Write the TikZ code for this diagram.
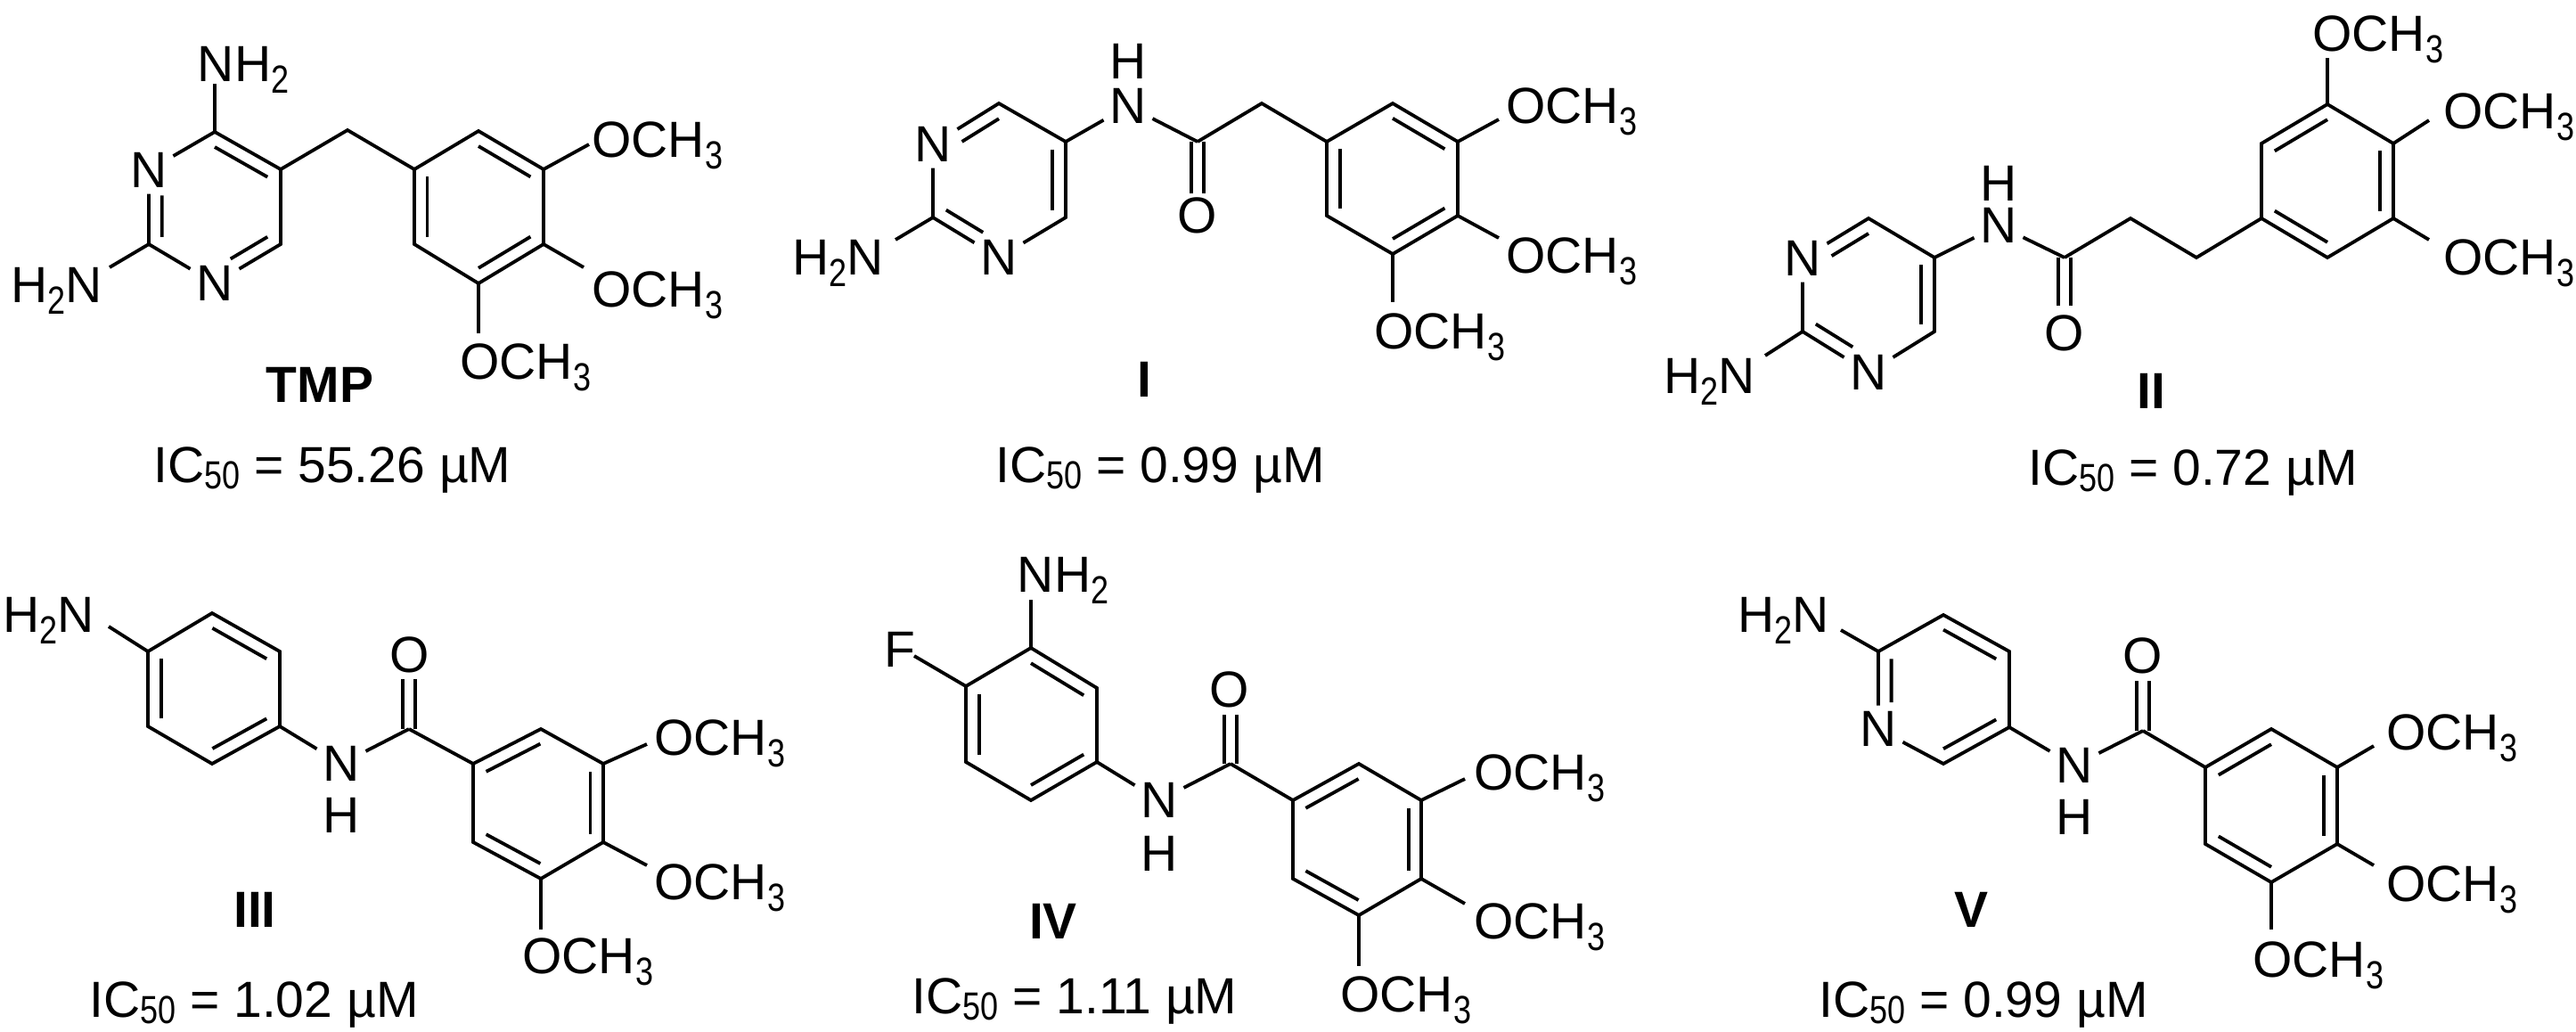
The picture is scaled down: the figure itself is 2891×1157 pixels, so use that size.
\documentclass[tikz,border=0pt]{standalone}
\usepackage{fontspec}
\setmainfont{Liberation Sans}
\usetikzlibrary{calc}
\newcommand\fsz{\fontsize{57}{60}\selectfont}
\newcommand\sub[1]{\raisebox{-13pt}{\scalebox{0.9}[1.1]{\fontsize{40}{40}\selectfont #1}}}
\newcommand\isub[1]{\raisebox{-7pt}{\scalebox{0.9}[1.1]{\fontsize{40}{40}\selectfont #1}}}
\newcommand\dbl[5]{%
  \coordinate (dA) at ($(#1)!0.2!(#3)$);
  \coordinate (dB) at ($(#2)!0.2!(#3)$);
  \draw ($(dA)!#4!(dB)$) -- ($(dB)!#5!(dA)$);}
% name, O centre x, y
\newcommand\OMe[3]{\node[lab,anchor=base west] (#1) at (#2-22.5,#3+21) {OCH\sub{3}};}
\newcommand\CO[4]{% carbon, end coordinate
  \draw ([xshift=-7pt]#1) -- ([xshift=-7pt]#2);
  \draw ([xshift=7pt]#1) -- ([xshift=7pt]#2);}
\begin{document}
\begin{tikzpicture}[x=1pt,y=-1pt,line width=3.8pt,line join=miter,
  lab/.style={inner sep=0pt,font=\fsz},
  atm/.style={inner sep=5pt,font=\fsz},
  cmpd/.style={inner sep=0pt,font=\fsz\bfseries,anchor=base},
  ic/.style={inner sep=0pt,font=\fsz,anchor=base}]
\useasboundingbox (0,0) rectangle (2891,1157);
\fill[white] (0,0) rectangle (2891,1157);

% ================= TMP
\coordinate (t4) at (241,148); \coordinate (t5) at (315,190); \coordinate (t6) at (315,274);
\node[atm] (tn1) at (241,318) {N}; \coordinate (t2) at (167,274); \node[atm] (tn3) at (167,191) {N};
\coordinate (tc) at (241,233);
\draw (tn3) -- (t4) -- (t5) -- (t6) -- (tn1) -- (t2) -- (tn3);
\dbl{t4}{t5}{tc}{0}{0} \dbl{t2}{tn3}{tc}{0}{0.3} \dbl{t6}{tn1}{tc}{0}{0.3}
\coordinate (tnh) at (241,94); \draw (t4) -- (tnh);
\node[lab,anchor=base west] (tNH2) at (220,91) {NH\sub{2}};
\coordinate (th2n) at (123,300); \draw (t2) -- (th2n);
\node[lab,anchor=base east] (tH2N) at (117,339) {H\sub{2}N};
\coordinate (tm) at (390,146);
\coordinate (b1) at (465,190); \coordinate (b2) at (537,147); \coordinate (b3) at (610,190);
\coordinate (b4) at (610,274); \coordinate (b5) at (537,318); \coordinate (b6) at (465,274);
\coordinate (bc) at (537,232);
\draw (t5) -- (tm) -- (b1);
\draw (b1) -- (b2) -- (b3) -- (b4) -- (b5) -- (b6) -- cycle;
\dbl{b2}{b3}{bc}{0}{0} \dbl{b4}{b5}{bc}{0}{0} \dbl{b1}{b6}{bc}{0}{0}
\coordinate (bo3) at (661,162); \draw (b3) -- (bo3); \OMe{tO1}{685}{155}
\coordinate (bo4) at (655,300); \draw (b4) -- (bo4); \OMe{tO2}{685}{323}
\coordinate (bo5) at (537,374); \draw (b5) -- (bo5); \OMe{tO3}{537}{404}
\node[cmpd] (lTMP) at (359,451) {TMP};
\node[ic] (icTMP) at (373,541) {IC\isub{50} = 55.26 µM};

% ================= I
\coordinate (p6) at (1121,116); \coordinate (p5) at (1196,159); \coordinate (p4) at (1196,244);
\node[atm] (pn3) at (1121,289) {N}; \coordinate (p2) at (1047,244); \node[atm] (pn1) at (1047,162) {N};
\coordinate (pc) at (1121,202);
\draw (pn1) -- (p6) -- (p5) -- (p4) -- (pn3) -- (p2) -- (pn1);
\dbl{pn1}{p6}{pc}{0.3}{0} \dbl{p2}{pn3}{pc}{0}{0.3} \dbl{p5}{p4}{pc}{0}{0}
\coordinate (ph2n) at (1005,269); \draw (p2) -- (ph2n);
\node[lab,anchor=base east] (pH2N) at (994,308) {H\sub{2}N};
\node[atm] (pN) at (1266,119) {N}; \node[lab,anchor=base] (pH) at (1266,88) {H};
\coordinate (pC) at (1344,159); \coordinate (pOe) at (1344,217);
\draw (p5) -- (pN) -- (pC);
\CO{pC}{pOe}{}{}
\node[lab,anchor=base] (pO) at (1344,261) {O};
\coordinate (pm) at (1416,116);
\coordinate (q1) at (1489,159); \coordinate (q2) at (1563,116); \coordinate (q3) at (1636,159);
\coordinate (q4) at (1636,242); \coordinate (q5) at (1563,285); \coordinate (q6) at (1489,242);
\coordinate (qc) at (1563,200);
\draw (pC) -- (pm) -- (q1);
\draw (q1) -- (q2) -- (q3) -- (q4) -- (q5) -- (q6) -- cycle;
\dbl{q2}{q3}{qc}{0}{0} \dbl{q4}{q5}{qc}{0}{0} \dbl{q1}{q6}{qc}{0}{0}
\coordinate (qo3) at (1682,134); \draw (q3) -- (qo3); \OMe{pO1}{1711}{117}
\coordinate (qo4) at (1682,267); \draw (q4) -- (qo4); \OMe{pO2}{1711}{285}
\coordinate (qo5) at (1563,339); \draw (q5) -- (qo5); \OMe{pO3}{1563}{370}
\node[cmpd] (lI) at (1284,445) {I};
\node[ic] (icI) at (1302,541) {IC\isub{50} = 0.99 µM};

% ================= II
\coordinate (r6) at (2097,245); \coordinate (r5) at (2171,289); \coordinate (r4) at (2171,372);
\node[atm] (rn3) at (2097,418) {N}; \coordinate (r2) at (2023,372); \node[atm] (rn1) at (2023,290) {N};
\coordinate (rcc) at (2097,330);
\draw (rn1) -- (r6) -- (r5) -- (r4) -- (rn3) -- (r2) -- (rn1);
\dbl{rn1}{r6}{rcc}{0.3}{0} \dbl{r2}{rn3}{rcc}{0}{0.3} \dbl{r5}{r4}{rcc}{0}{0}
\coordinate (rh2n) at (1981,399); \draw (r2) -- (rh2n);
\node[lab,anchor=base east] (rH2N) at (1972,441) {H\sub{2}N};
\node[atm] (rN) at (2243,253) {N}; \node[lab,anchor=base] (rH) at (2243,225) {H};
\coordinate (rC) at (2317,289); \coordinate (rOe) at (2317,343);
\draw (r5) -- (rN) -- (rC);
\CO{rC}{rOe}{}{}
\node[lab,anchor=base] (rO) at (2317,393) {O};
\coordinate (ra) at (2391,245); \coordinate (rb) at (2465,289);
\coordinate (s1) at (2538,245); \coordinate (s2) at (2538,161); \coordinate (s3) at (2612,117);
\coordinate (s4) at (2686,161); \coordinate (s5) at (2686,245); \coordinate (s6) at (2612,289);
\coordinate (sc) at (2612,203);
\draw (rC) -- (ra) -- (rb) -- (s1);
\draw (s1) -- (s2) -- (s3) -- (s4) -- (s5) -- (s6) -- cycle;
\dbl{s2}{s3}{sc}{0}{0} \dbl{s4}{s5}{sc}{0}{0} \dbl{s1}{s6}{sc}{0}{0}
\coordinate (so3) at (2612,65); \draw (s3) -- (so3); \OMe{rO1}{2616}{36}
\coordinate (so4) at (2726,135); \draw (s4) -- (so4); \OMe{rO2}{2763}{123}
\coordinate (so5) at (2726,269); \draw (s5) -- (so5); \OMe{rO3}{2763}{287}
\node[cmpd] (lII) at (2414,458) {II};
\node[ic] (icII) at (2461,544) {IC\isub{50} = 0.72 µM};

% ================= III
\coordinate (a1) at (238,688); \coordinate (a2) at (314,731); \coordinate (a3) at (314,815);
\coordinate (a4) at (238,857); \coordinate (a5) at (166,815); \coordinate (a6) at (166,731);
\coordinate (ac0) at (240,772);
\draw (a1) -- (a2) -- (a3) -- (a4) -- (a5) -- (a6) -- cycle;
\dbl{a1}{a2}{ac0}{0}{0} \dbl{a3}{a4}{ac0}{0}{0} \dbl{a5}{a6}{ac0}{0}{0}
\coordinate (ah2n) at (122,703); \draw (a6) -- (ah2n);
\node[lab,anchor=base east] (aH2N) at (108,709) {H\sub{2}N};
\node[atm] (aN) at (383,857) {N}; \node[lab,anchor=base] (aH) at (383,934) {H};
\coordinate (aC) at (459,818); \coordinate (aOe) at (459,762);
\draw (a3) -- (aN) -- (aC);
\CO{aC}{aOe}{}{}
\node[lab,anchor=base] (aO) at (460,754) {O};
\coordinate (c1) at (531,857); \coordinate (c2) at (607,818); \coordinate (c3) at (677,857);
\coordinate (c4) at (677,945); \coordinate (c5) at (607,986); \coordinate (c6) at (531,945);
\coordinate (cc) at (604,901);
\draw (aC) -- (c1);
\draw (c1) -- (c2) -- (c3) -- (c4) -- (c5) -- (c6) -- cycle;
\dbl{c1}{c2}{cc}{0}{0} \dbl{c3}{c4}{cc}{0}{0} \dbl{c5}{c6}{cc}{0}{0}
\coordinate (co3) at (726,835); \draw (c3) -- (co3); \OMe{aO1}{755}{826}
\coordinate (co4) at (726,971); \draw (c4) -- (co4); \OMe{aO2}{755}{988}
\coordinate (co5) at (607,1043); \draw (c5) -- (co5); \OMe{aO3}{607}{1071}
\node[cmpd] (lIII) at (286,1040) {III};
\node[ic] (icIII) at (285,1141) {IC\isub{50} = 1.02 µM};

% ================= IV
\coordinate (d1) at (1157,727); \coordinate (d2) at (1231,772); \coordinate (d3) at (1231,855);
\coordinate (d4) at (1157,898); \coordinate (d5) at (1084,855); \coordinate (d6) at (1084,770);
\coordinate (dc0) at (1157,813);
\draw (d1) -- (d2) -- (d3) -- (d4) -- (d5) -- (d6) -- cycle;
\dbl{d1}{d2}{dc0}{0}{0} \dbl{d3}{d4}{dc0}{0}{0} \dbl{d5}{d6}{dc0}{0}{0}
\coordinate (dnh) at (1157,673); \draw (d1) -- (dnh);
\node[lab,anchor=base west] (dNH2) at (1140,664) {NH\sub{2}};
\coordinate (df) at (1026,736); \draw (d6) -- (df);
\node[lab,anchor=base] (dF) at (1010,748) {F};
\node[atm] (dN) at (1301,898) {N}; \node[lab,anchor=base] (dH) at (1301,977) {H};
\coordinate (dC) at (1381,857); \coordinate (dOe) at (1381,802);
\draw (d3) -- (dN) -- (dC);
\CO{dC}{dOe}{}{}
\node[lab,anchor=base] (dO) at (1380,793) {O};
\coordinate (e1) at (1451,898); \coordinate (e2) at (1525,857); \coordinate (e3) at (1595,898);
\coordinate (e4) at (1595,986); \coordinate (e5) at (1525,1027); \coordinate (e6) at (1451,986);
\coordinate (ec) at (1523,942);
\draw (dC) -- (e1);
\draw (e1) -- (e2) -- (e3) -- (e4) -- (e5) -- (e6) -- cycle;
\dbl{e1}{e2}{ec}{0}{0} \dbl{e3}{e4}{ec}{0}{0} \dbl{e5}{e6}{ec}{0}{0}
\coordinate (eo3) at (1644,874); \draw (e3) -- (eo3); \OMe{dO1}{1675}{865}
\coordinate (eo4) at (1644,1014); \draw (e4) -- (eo4); \OMe{dO2}{1675}{1032}
\coordinate (eo5) at (1525,1084); \draw (e5) -- (eo5); \OMe{dO3}{1525}{1114}
\node[cmpd] (lIV) at (1182,1053) {IV};
\node[ic] (icIV) at (1206,1137) {IC\isub{50} = 1.11 µM};

% ================= V
\coordinate (f1) at (2181,690); \coordinate (f2) at (2255,731); \coordinate (f3) at (2255,816);
\coordinate (f4) at (2181,857); \node[atm] (fn) at (2108,818) {N}; \coordinate (f6) at (2108,731);
\coordinate (fc) at (2181,773);
\draw (f6) -- (f1) -- (f2) -- (f3) -- (f4) -- (fn) -- (f6);
\dbl{f1}{f2}{fc}{0}{0} \dbl{f3}{f4}{fc}{0}{0} \dbl{f6}{fn}{fc}{0}{0.3}
\coordinate (fh2n) at (2066,707); \draw (f6) -- (fh2n);
\node[lab,anchor=base east] (fH2N) at (2055,709) {H\sub{2}N};
\node[atm] (vN) at (2328,859) {N}; \node[lab,anchor=base] (vH) at (2328,936) {H};
\coordinate (vC) at (2405,820); \coordinate (vOe) at (2405,764);
\draw (f3) -- (vN) -- (vC);
\CO{vC}{vOe}{}{}
\node[lab,anchor=base] (vO) at (2405,755) {O};
\coordinate (g1) at (2475,861); \coordinate (g2) at (2549,818); \coordinate (g3) at (2623,861);
\coordinate (g4) at (2623,947); \coordinate (g5) at (2549,990); \coordinate (g6) at (2475,947);
\coordinate (gc) at (2549,904);
\draw (vC) -- (g1);
\draw (g1) -- (g2) -- (g3) -- (g4) -- (g5) -- (g6) -- cycle;
\dbl{g1}{g2}{gc}{0}{0} \dbl{g3}{g4}{gc}{0}{0} \dbl{g5}{g6}{gc}{0}{0}
\coordinate (go3) at (2664,837); \draw (g3) -- (go3); \OMe{vO1}{2699}{820}
\coordinate (go4) at (2664,971); \draw (g4) -- (go4); \OMe{vO2}{2699}{990}
\coordinate (go5) at (2549,1043); \draw (g5) -- (go5); \OMe{vO3}{2549}{1075}
\node[cmpd] (lV) at (2212,1040) {V};
\node[ic] (icV) at (2226,1141) {IC\isub{50} = 0.99 µM};
\end{tikzpicture}
\end{document}
